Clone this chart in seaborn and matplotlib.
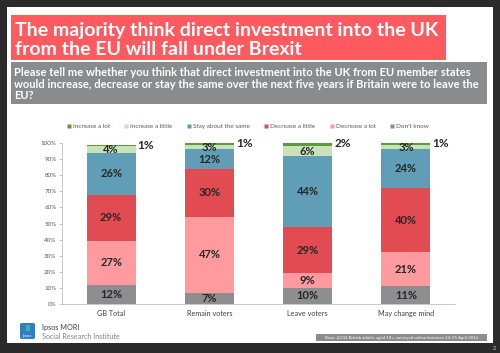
import matplotlib
matplotlib.use("Agg")
import matplotlib.pyplot as plt
from matplotlib.patches import Rectangle, FancyBboxPatch
from matplotlib.lines import Line2D
import seaborn as sns
import pandas as pd
import numpy as np

categories = ["GB Total", "Remain voters", "Leave voters", "May change mind"]
series = ["Increase a lot", "Increase a little", "Stay about the same",
          "Decrease a little", "Decrease a lot", "Don't know"]
increase_lot = [1, 1, 2, 1]
increase_little = [4, 3, 6, 3]
stay_same = [26, 12, 44, 24]
decrease_little = [29, 30, 29, 40]
decrease_lot = [27, 47, 9, 21]
dont_know = [12, 7, 10, 11]
colors = {
    "Increase a lot": "#5b9a3d",
    "Increase a little": "#c9e2b8",
    "Stay about the same": "#5f9eb6",
    "Decrease a little": "#e24b51",
    "Decrease a lot": "#ff9b9f",
    "Don't know": "#8e8e90",
}
y_ticks = [0, 10, 20, 30, 40, 50, 60, 70, 80, 90, 100]

title = "The majority think direct investment into the UK\nfrom the EU will fall under Brexit"
subtitle = ("Please tell me whether you think that direct investment into the UK from EU member states\n"
            "would increase, decrease or stay the same over the next five years if Britain were to leave the\n"
            "EU?")
base_note = "Base: 4,002 British adults, aged 18+, surveyed online between 14-25 April 2016"

stack_bottom_up = ["Don't know", "Decrease a lot", "Decrease a little",
                   "Stay about the same", "Increase a little", "Increase a lot"]
values = {
    "Increase a lot": increase_lot,
    "Increase a little": increase_little,
    "Stay about the same": stay_same,
    "Decrease a little": decrease_little,
    "Decrease a lot": decrease_lot,
    "Don't know": dont_know,
}

sns.set_theme(style="white")
plt.rcParams['font.family'] = ['Lato', 'DejaVu Sans']

W, H = 500, 353
fig = plt.figure(figsize=(5, 3.53), dpi=100, facecolor="#2b2b2b")

def fx(x): return x / W
def fy(y): return 1 - y / H

# white slide
fig.patches.append(Rectangle((fx(7), fy(343)), fx(486), (336) / H, transform=fig.transFigure,
                             facecolor="white", edgecolor="none", zorder=0))
# title box
fig.patches.append(Rectangle((fx(11), fy(60)), fx(435), 45 / H, transform=fig.transFigure,
                             facecolor="#ff5a5f", edgecolor="none", zorder=1))
fig.text(fx(15), fy(40), title, color="white", fontsize=14, fontweight="bold",
         va="center", ha="left", linespacing=1.08)
# subtitle box
fig.patches.append(Rectangle((fx(11), fy(104)), fx(476), 42 / H, transform=fig.transFigure,
                             facecolor="#898b8d", edgecolor="none", zorder=1))
fig.text(fx(14), fy(84), subtitle, color="white", fontsize=8.05, fontweight="bold",
         va="center", ha="left", linespacing=1.1)

# axes
ax = fig.add_axes([fx(62), fy(304), fx(455 - 62), (304 - 143) / H])
ax.set_zorder(5)
ax.set_facecolor("white")

cum = np.zeros(len(categories))
cums = {}
for s in stack_bottom_up:
    cum = cum + np.array(values[s])
    cums[s] = cum.copy()

# draw from top series down so lower cumulative bars overlay
for s in reversed(stack_bottom_up):
    df = pd.DataFrame({"cat": categories, "val": cums[s]})
    sns.barplot(data=df, x="cat", y="val", order=categories, color=colors[s],
                saturation=1, width=0.5, ax=ax, linewidth=0, zorder=2)

# labels
for i, cat in enumerate(categories):
    prev = 0
    for s in stack_bottom_up:
        v = values[s][i]
        top = cums[s][i]
        if s == "Increase a lot":
            ax.text(i + 0.27, top - 0.5, f"{v}%", fontsize=8.5, fontweight="bold",
                    color="#262626", ha="left", va="center", zorder=5)
        else:
            ax.text(i, (prev + top) / 2, f"{v}%", fontsize=8, fontweight="bold",
                    color="#262626", ha="center", va="center", zorder=5)
        prev = top

ax.set_ylim(0, 100)
ax.set_xlim(-0.5, len(categories) - 0.5)
ax.set_yticks(y_ticks)
ax.set_yticklabels([f"{t}%" for t in y_ticks], fontsize=4.5, color="#595959")
ax.set_xticks(range(len(categories)))
ax.set_xticklabels(categories, fontsize=5.2, color="#404040")
ax.set_xticks([0.5, 1.5, 2.5], minor=True)
ax.tick_params(axis="x", which="major", length=0, pad=4)
ax.tick_params(axis="x", which="minor", length=2, color="#bfbfbf", width=0.6)
ax.tick_params(axis="y", length=2, color="#bfbfbf", width=0.6, pad=2, left=True)
ax.set_xlabel("")
ax.set_ylabel("")
for sp in ["top", "right"]:
    ax.spines[sp].set_visible(False)
for sp in ["left", "bottom"]:
    ax.spines[sp].set_color("#bfbfbf")
    ax.spines[sp].set_linewidth(0.6)

# legend
handles = [Line2D([0], [0], marker="s", linestyle="none", markersize=3,
                  markerfacecolor=colors[s], markeredgecolor="none") for s in series]
fig.legend(handles, series, loc="center", bbox_to_anchor=(fx(248), fy(126)), ncol=6,
           frameon=False, fontsize=4.6, labelcolor="#595959", handlelength=0.6,
           handletextpad=0.3, columnspacing=2.3)

# footer logo
fig.patches.append(FancyBboxPatch((fx(20), fy(339)), fx(15), 16 / H, transform=fig.transFigure,
                                  boxstyle="round,pad=0,rounding_size=0.004",
                                  facecolor="#2f7fc1", edgecolor="none", zorder=2))
fig.patches.append(Rectangle((fx(25.5), fy(331)), fx(4), 6 / H, transform=fig.transFigure,
                             facecolor="#3bb3a9", edgecolor="none", zorder=3))
fig.text(fx(27.5), fy(336), "Ipsos", fontsize=3, color="white", ha="center", va="center")
fig.text(fx(42), fy(327.5), "Ipsos MORI", fontsize=5.2, color="#404040", ha="left", va="center")
fig.text(fx(42), fy(336.5), "Social Research Institute", fontsize=5.2, color="#808080",
         ha="left", va="center")

# base note
fig.patches.append(Rectangle((fx(316), fy(341)), fx(171), 7 / H, transform=fig.transFigure,
                             facecolor="#8c8c8c", edgecolor="none", zorder=2))
fig.text(fx(401.5), fy(337.6), base_note, fontsize=3.15, color="white", ha="center", va="center")

fig.text(fx(494), fy(348.5), "2", fontsize=4, color="#cccccc", ha="center", va="center")

fig.savefig("out.png", dpi=100, facecolor=fig.get_facecolor())
